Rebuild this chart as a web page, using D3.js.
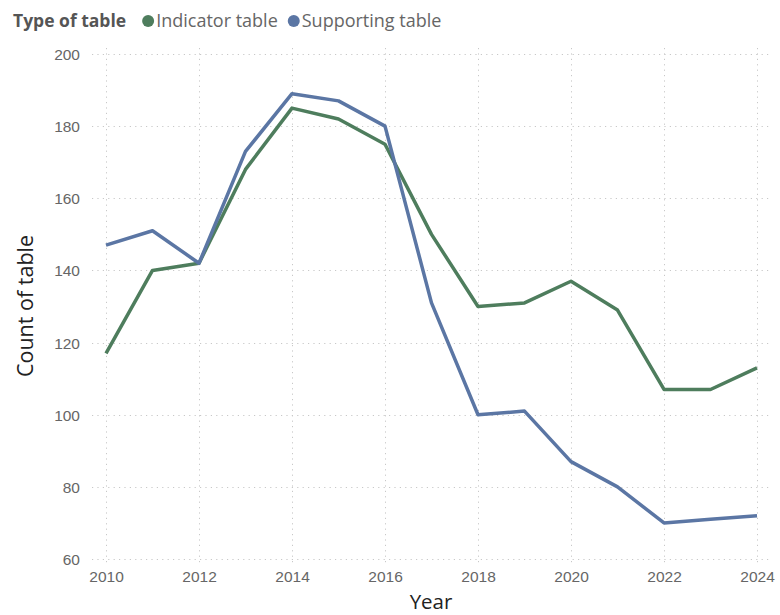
<!DOCTYPE html>
<html>
<head>
<meta charset="utf-8">
<script src="https://cdn.jsdelivr.net/npm/d3@7"></script>
<style>
  html, body { margin: 0; padding: 0; background: #fff; }
  svg { display: block; font-family: "Open Sans", "Noto Sans", sans-serif; }
</style>
</head>
<body>
<svg id="chart" width="780" height="615"></svg>
<script>
// Count of tables per year, by type of table
const years = [2010, 2011, 2012, 2013, 2014, 2015, 2016, 2017, 2018, 2019, 2020, 2021, 2022, 2023, 2024];
const indicatorTable = [117, 140, 142, 168, 185, 182, 175, 150, 130, 131, 137, 129, 107, 107, 113];
const supportingTable = [147, 151, 142, 173, 189, 187, 180, 131, 100, 101, 87, 80, 70, 71, 72];
const xTicks = [2010, 2012, 2014, 2016, 2018, 2020, 2022, 2024];
const yTicks = [60, 80, 100, 120, 140, 160, 180, 200];

const seriesList = [
  { name: "Indicator table", values: indicatorTable, color: "#4e7d5d" },
  { name: "Supporting table", values: supportingTable, color: "#5b76a4" }
];

const svg = d3.select("#chart");

const x = d3.scaleLinear().domain([2010, 2024]).range([106, 757]);
const y = d3.scaleLinear().domain([60, 200]).range([559, 54]);

const gridLeft = 92, gridRight = 770, gridTop = 48, gridBottom = 566;

// dotted grid
const grid = svg.append("g").attr("stroke", "#c8c8c8").attr("stroke-width", 1)
  .attr("stroke-dasharray", "1.2,4.2");
grid.selectAll("line.h").data(yTicks).join("line")
  .attr("class", "h")
  .attr("x1", gridLeft).attr("x2", gridRight)
  .attr("y1", d => Math.round(y(d)) + 0.5).attr("y2", d => Math.round(y(d)) + 0.5);
grid.selectAll("line.v").data(xTicks).join("line")
  .attr("class", "v")
  .attr("y1", gridTop).attr("y2", gridBottom)
  .attr("x1", d => Math.round(x(d)) + 0.5).attr("x2", d => Math.round(x(d)) + 0.5);

// axes (labels only)
const yAxis = svg.append("g").attr("transform", "translate(80,0)")
  .call(d3.axisLeft(y).tickValues(yTicks).tickSize(0).tickPadding(0).tickFormat(d3.format("d")));
yAxis.select(".domain").remove();
yAxis.selectAll("text").attr("fill", "#666").style("font-size", "15.5px")
  .attr("dy", "0.35em");

const xAxis = svg.append("g").attr("transform", "translate(0,568)")
  .call(d3.axisBottom(x).tickValues(xTicks).tickSize(0).tickPadding(0).tickFormat(d3.format("d")));
xAxis.select(".domain").remove();
xAxis.selectAll("text").attr("fill", "#666").style("font-size", "15.5px")
  .attr("dy", "0.9em");

// axis titles
svg.append("text")
  .attr("transform", "translate(33,306) rotate(-90)")
  .attr("text-anchor", "middle")
  .attr("fill", "#222")
  .style("font-size", "21.5px")
  .text("Count of table");

svg.append("text")
  .attr("x", 431).attr("y", 609)
  .attr("text-anchor", "middle")
  .attr("fill", "#222")
  .style("font-size", "20.5px")
  .text("Year");

// lines
const line = d3.line().x((d, i) => x(years[i])).y(d => y(d));
svg.append("g").selectAll("path").data(seriesList).join("path")
  .attr("d", d => line(d.values))
  .attr("fill", "none")
  .attr("stroke", d => d.color)
  .attr("stroke-width", 3.5)
  .attr("stroke-linejoin", "round")
  .attr("stroke-linecap", "butt");

// legend: bold title, then a dot and label per series
const legend = svg.append("g").attr("transform", "translate(13,21)");
const title = legend.append("text")
  .attr("x", 0).attr("y", 0).attr("dy", "0.35em")
  .attr("fill", "#555")
  .style("font-size", "17.5px").style("font-weight", "bold")
  .text("Type of table");
let cx = title.node().getComputedTextLength() + 22;
seriesList.forEach(s => {
  legend.append("circle").attr("cx", cx).attr("cy", 0).attr("r", 6).attr("fill", s.color);
  const t = legend.append("text")
    .attr("x", cx + 8).attr("y", 0).attr("dy", "0.35em")
    .attr("fill", "#666")
    .style("font-size", "18px")
    .text(s.name);
  cx += 8 + t.node().getComputedTextLength() + 16;
});
</script>
</body>
</html>
